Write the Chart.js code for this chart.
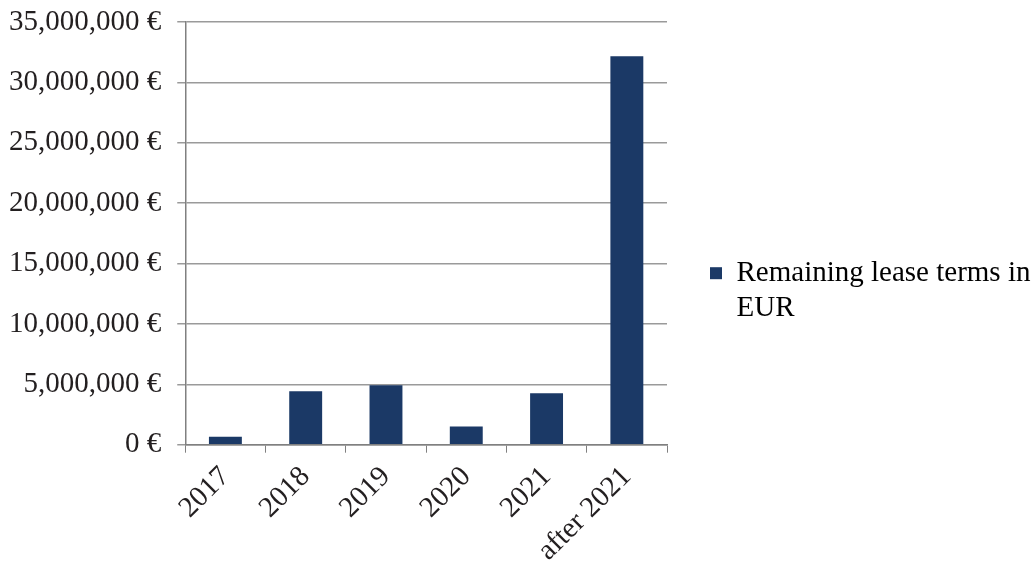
<!DOCTYPE html>
<html lang="en">
<head>
<meta charset="UTF-8" />
<title>Remaining lease terms</title>
<script src="https://cdn.jsdelivr.net/npm/chart.js"></script>
<style>
  html, body { margin: 0; padding: 0; background: #fff; }
  #wrap { width: 1031px; height: 562px; }
</style>
</head>
<body>
<div id="wrap"><canvas id="leaseChart" width="1031" height="562"></canvas></div>
<script>
  const years = ['2017', '2018', '2019', '2020', '2021', 'after 2021'];
  const leaseTerms = [650000, 4420000, 4920000, 1500000, 4250000, 32170000];
  const seriesLabel = ['Remaining lease terms in', 'EUR'];

  const barColor = '#1b3966';
  const textColor = '#231f20';
  const serif = "'Liberation Serif', 'Times New Roman', serif";

  // legend column is wider than the text needs and sits a bit below centre
  const legendBox = {
    id: 'legendBox',
    afterInit(chart) {
      const fit = chart.legend.fit;
      chart.legend.fit = function () {
        fit.call(this);
        this.width = 364;
      };
    },
    afterLayout(chart) {
      chart.legend.top += 6;
      chart.legend.bottom += 6;
    }
  };

  const ctx = document.getElementById('leaseChart').getContext('2d');
  new Chart(ctx, {
    type: 'bar',
    data: {
      labels: years,
      datasets: [{
        label: seriesLabel.join(' '),
        data: leaseTerms,
        backgroundColor: barColor,
        barPercentage: 0.41,
        categoryPercentage: 1.0
      }]
    },
    plugins: [legendBox],
    options: {
      responsive: false,
      animation: false,
      layout: { padding: { top: 0, left: -7, right: 0, bottom: -13 } },
      plugins: {
        tooltip: { enabled: false },
        legend: {
          position: 'right',
          labels: {
            color: textColor,
            font: { family: serif, size: 29 },
            boxWidth: 12,
            boxHeight: 12,
            padding: 43,
            generateLabels: () => [{
              text: seriesLabel,
              fillStyle: barColor,
              strokeStyle: barColor,
              lineWidth: 0,
              datasetIndex: 0
            }]
          }
        }
      },
      scales: {
        x: {
          afterFit: (scale) => { scale.paddingLeft = 0; },
          grid: {
            drawOnChartArea: false,
            color: '#808080',
            tickLength: 8
          },
          border: { color: '#808080', width: 1.5 },
          ticks: {
            color: textColor,
            font: { family: serif, size: 29 },
            maxRotation: 45,
            minRotation: 45,
            padding: 7
          }
        },
        y: {
          afterFit: (scale) => { scale.paddingTop = 22; },
          min: 0,
          max: 35000000,
          grid: {
            color: '#9a9a9a',
            lineWidth: 1.5,
            tickLength: 8
          },
          border: { color: '#808080', width: 1.5 },
          ticks: {
            stepSize: 5000000,
            color: textColor,
            font: { family: serif, size: 29 },
            padding: 16,
            callback: (v) => Number(v).toLocaleString('en-US') + ' €'
          }
        }
      }
    }
  });
</script>
</body>
</html>
